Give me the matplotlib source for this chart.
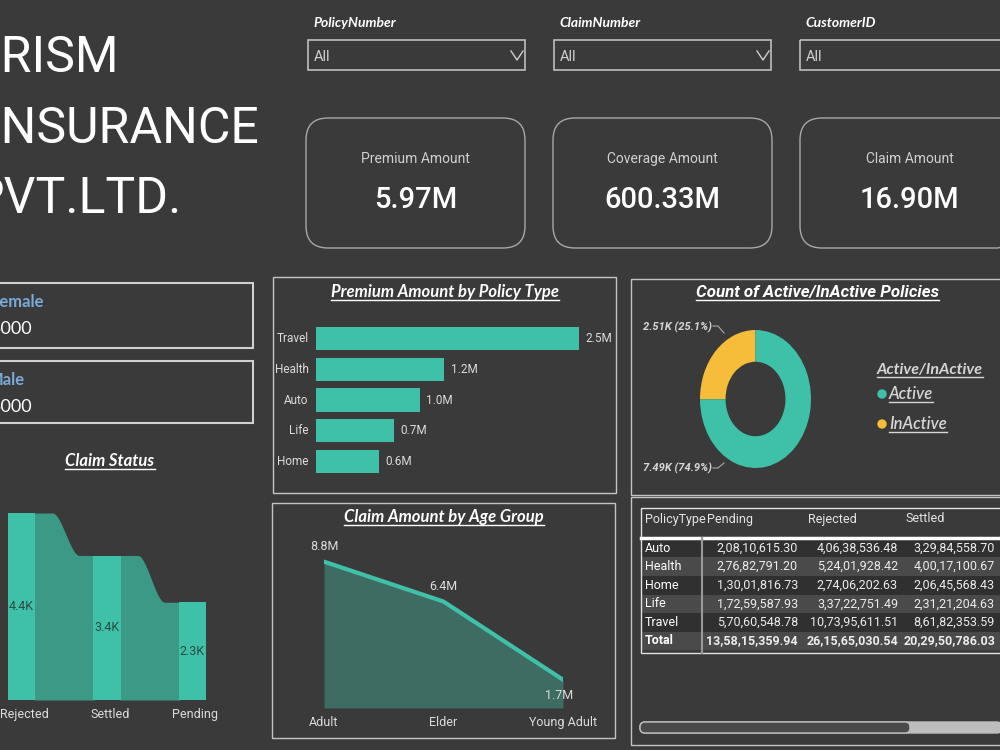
import numpy as np
import matplotlib.pyplot as plt
from matplotlib.patches import Rectangle, FancyBboxPatch, Circle

# ---- data ----
slicer_labels = ["PolicyNumber", "ClaimNumber", "CustomerID"]
kpi_labels = ["Premium Amount", "Coverage Amount", "Claim Amount"]
kpi_values_m = [5.97, 600.33, 16.90]
gender_labels = ["Female", "Male"]
gender_counts = [5000, 5000]

policy_types = ["Travel", "Health", "Auto", "Life", "Home"]
premium_m = [2.50, 1.22, 0.99, 0.74, 0.60]

claim_status = ["Rejected", "Settled", "Pending"]
claim_status_k = [4.4, 3.4, 2.3]

age_groups = ["Adult", "Elder", "Young Adult"]
claim_by_age_m = [8.8, 6.4, 1.7]

policy_state = ["Active", "InActive"]
policy_state_count = [7490, 2510]

table_types = ["Auto", "Health", "Home", "Life", "Travel"]
table_cols = ["Pending", "Rejected", "Settled"]
pending = [20810615.30, 27682791.20, 13001816.73, 17259587.93, 57060548.78]
rejected = [40638536.48, 52401928.42, 27406202.63, 33722751.49, 107395611.51]
settled = [32984558.70, 40017100.67, 20645568.43, 23121204.63, 86182353.59]
totals = [135815359.94, 261565030.54, 202950786.03]

# ---- style ----
BG = '#3a3a3a'
TEAL = '#3fc1a9'
TEAL_DARK = '#3c9985'
AREA = '#3e6b62'
YELLOW = '#f6bd3b'
BORDER = '#c4c4c4'
TXT = '#dcdcdc'
NARROW = ['Roboto', 'DejaVu Sans']
TITLE = ['Lato', 'DejaVu Sans']


def px(x0, y0, x1, y1):
    # pixel box (y down) -> figure fraction rect
    return [x0 / 1000, 1 - y1 / 750, (x1 - x0) / 1000, (y1 - y0) / 750]


def inr(v):
    # indian digit grouping, e.g. 2,08,10,615.30
    ip, dp = f"{v:.2f}".split('.')
    last3, rest = ip[-3:], ip[:-3]
    groups = []
    while len(rest) > 2:
        groups.insert(0, rest[-2:])
        rest = rest[:-2]
    if rest:
        groups.insert(0, rest)
    return ','.join(groups + [last3]) + '.' + dp


fig = plt.figure(figsize=(10, 7.5), dpi=100, facecolor=BG)
bg = fig.add_axes([0, 0, 1, 1])
bg.set_xlim(0, 1000)
bg.set_ylim(750, 0)
bg.axis('off')
underlined = []

# company name (cut at the left edge like the screenshot)
for line, x, yb in zip(["PRISM", "INSURANCE", "PVT.LTD."], [-30, -12, -27], [72, 143, 213]):
    bg.text(x, yb, line, fontsize=36, color='white', family=NARROW, va='baseline')

# slicers
for i, lab in enumerate(slicer_labels):
    x0 = 308 + i * 246
    bg.text(x0 + 5, 23, lab, fontsize=10, style='italic', weight='bold', color='white',
            family=TITLE, va='center')
    bg.add_patch(Rectangle((x0, 40), 217, 30, fill=False, ec='#bdbdbd', lw=1.2))
    bg.text(x0 + 6, 57, 'All', fontsize=10.5, color='#d0d0d0', family=NARROW, va='center')
    bg.plot([x0 + 203, x0 + 209, x0 + 215], [51, 60, 51], color='#cfcfcf', lw=1)

# KPI cards
for i, (lab, v) in enumerate(zip(kpi_labels, kpi_values_m)):
    x0 = 306 + i * 247
    bg.add_patch(FancyBboxPatch((x0, 118), 219, 130, boxstyle='round,pad=0,rounding_size=22',
                                fill=False, ec='#a8a8a8', lw=1))
    bg.text(x0 + 109.5, 159, lab, fontsize=10, color='#d0d0d0', family=NARROW,
            ha='center', va='center')
    bg.text(x0 + 109.5, 200, f"{v:.2f}M", fontsize=21, color='white', family=NARROW,
            weight='medium', ha='center', va='center')

# gender cards
for (lab, cnt), y0, h in zip(zip(gender_labels, gender_counts), [283, 361], [65, 62]):
    bg.add_patch(Rectangle((-5, y0), 258, h, fill=False, ec='#d0d0d0', lw=1.5))
    bg.text(-9 if lab == "Female" else -12, y0 + 19, lab, fontsize=12, weight='bold',
            color='#7aaad6', family=TITLE, va='center')
    bg.text(-9, y0 + 46, f"{cnt}", fontsize=13, color='white', family=TITLE, va='center')

# panel borders
for x0, y0, w, h in [(273, 277, 343, 216), (631, 279, 380, 216),
                     (272, 503, 343, 235), (631, 497, 380, 248)]:
    bg.add_patch(Rectangle((x0, y0), w, h, fill=False, ec=BORDER, lw=1))

# titles
title_kw = dict(fontsize=12, weight='bold', style='italic', color='white', family=TITLE,
                ha='center', va='baseline')
underlined.append(bg.text(445, 297, 'Premium Amount by Policy Type', **title_kw))
underlined.append(bg.text(110, 466, 'Claim Status', **title_kw))
underlined.append(bg.text(444, 522, 'Claim Amount by Age Group', **title_kw))
underlined.append(bg.text(817, 297, 'Count of Active/InActive Policies', fontsize=12.2,
                          weight='bold', style='italic', color='white', family=NARROW,
                          ha='center', va='baseline'))

# ---- premium by policy type ----
ax = fig.add_axes(px(316, 323, 579, 477), facecolor='none')
ypos = np.arange(len(policy_types))
ax.barh(ypos, premium_m, height=0.75, color=TEAL)
ax.set_xlim(0, max(premium_m))
ax.set_ylim(len(policy_types) - 0.5, -0.5)
ax.axis('off')
for y, cat, v in zip(ypos, policy_types, premium_m):
    ax.text(-0.07, y, cat, ha='right', va='center', fontsize=8.5, color=TXT, family=NARROW)
    ax.text(v + 0.06, y, f"{v:.1f}M", ha='left', va='center', fontsize=8.5, color=TXT,
            family=NARROW)

# ---- claim status ribbon ----
ax2 = fig.add_axes(px(8, 480, 206, 700), facecolor='none')
xs = np.arange(len(claim_status))
bw = 0.32
ax2.set_xlim(-bw / 2, xs[-1] + bw / 2)
ax2.set_ylim(0, max(claim_status_k) * 220 / 187)
ax2.axis('off')
for i in range(len(xs) - 1):
    a, b = claim_status_k[i], claim_status_k[i + 1]
    x = np.linspace(xs[i] + bw / 2 - 0.01, xs[i + 1] - bw / 2 + 0.01, 80)
    t = (x - x[0]) / (x[-1] - x[0])
    u = np.clip((t - 0.3) / 0.45, 0, 1)
    ax2.fill_between(x, 0, a + (b - a) * u * u * (3 - 2 * u), color=TEAL_DARK, lw=0)
ax2.bar(xs, claim_status_k, width=bw, color=TEAL, zorder=3)
for x, name, v in zip(xs, claim_status, claim_status_k):
    ax2.text(x, v / 2, f"{v:.1f}K", ha='center', va='center', fontsize=9, color='#2c4a44',
             family=NARROW, zorder=4)
    ax2.annotate(name, (x, 0), xytext=(2, -6), textcoords='offset points', ha='center',
                 va='top', fontsize=9, color=TXT, family=NARROW)

# ---- claim amount by age group ----
ax3 = fig.add_axes(px(324, 540, 563, 708), facecolor='none')
xa = np.arange(len(age_groups))
ax3.fill_between(xa, 0, claim_by_age_m, color=AREA, lw=0)
ax3.plot(xa, claim_by_age_m, color=TEAL, lw=3, solid_capstyle='round')
ax3.set_xlim(0, xa[-1])
ax3.set_ylim(0, 10.1)
ax3.axis('off')
for x, name, v in zip(xa, age_groups, claim_by_age_m):
    off = 11 if x < xa[-1] else -11
    ax3.annotate(f"{v:.1f}M", (x, v), xytext=(-3 if x == xa[-1] else 0, off),
                 textcoords='offset points', ha='center', va='center', fontsize=9,
                 color=TXT, family=NARROW)
    ax3.annotate(name, (x, 0), xytext=(0, -6), textcoords='offset points', ha='center',
                 va='top', fontsize=9, color=TXT, family=NARROW)

# ---- active / inactive donut ----
ax4 = fig.add_axes(px(700, 330, 811, 468), facecolor='none')
order = [1, 0]  # InActive first so it sits in the top-left quarter
ax4.pie([policy_state_count[k] for k in order], colors=[YELLOW, TEAL], startangle=90,
        counterclock=True, wedgeprops=dict(width=0.46, lw=0))
ax4.set_aspect('auto')
ax4.set_xlim(-1, 1)
ax4.set_ylim(-1, 1)
tot = sum(policy_state_count)
lab_kw = dict(fontsize=8, weight='bold', style='italic', color='#d6d6d6', family=NARROW,
              ha='left', va='center')
c_in = policy_state_count[1]
c_ac = policy_state_count[0]
bg.text(643, 327, f"{c_in / 1000:.2f}K ({c_in / tot * 100:.1f}%)", **lab_kw)
bg.plot([713, 718, 724], [326, 326, 333], color='#aaaaaa', lw=0.8)
bg.text(643, 468, f"{c_ac / 1000:.2f}K ({c_ac / tot * 100:.1f}%)", **lab_kw)
bg.plot([713, 718, 724], [468, 468, 463], color='#aaaaaa', lw=0.8)

leg_kw = dict(fontsize=11.5, style='italic', color='#d6d6d6', family=TITLE, va='baseline')
underlined.append(bg.text(877, 374, 'Active/InActive', weight='bold', **leg_kw))
for name, col, y in zip(policy_state, [TEAL, YELLOW], [399, 429]):
    bg.add_patch(Circle((882, y - 5), 4, color=col))
    underlined.append(bg.text(889, y, name, fontsize=12, style='italic', color='#d6d6d6',
                              family=TITLE, va='baseline', weight='semibold'))

# ---- matrix table ----
bg.text(645, 519, 'PolicyType', fontsize=9, color='#e6e6e6', family=NARROW, va='center')
for x, c in zip([707, 808, 905], table_cols):
    bg.text(x, 519, c, fontsize=9, color='#e6e6e6', family=NARROW, va='center')
rh = 18.6
cols = [pending, rejected, settled]
for j, name in enumerate(table_types + ['Total']):
    yc = 548 + j * rh
    bg.add_patch(Rectangle((641, yc - rh / 2), 364, rh, lw=0,
                           color='#4a4a4a' if j % 2 == 1 else '#303030'))
    bold = 'bold' if name == 'Total' else 'normal'
    bg.text(645, yc, name, fontsize=9, color='white', family=NARROW, va='center',
            weight=bold)
    for xr, col, tval in zip([798, 898, 995], cols, totals):
        v = tval if name == 'Total' else col[j]
        bg.text(xr, yc, inr(v), fontsize=9, color='#ececec', family=NARROW,
                ha='right', va='center', weight=bold)
bg.plot([641, 1005], [538, 538], color='white', lw=2.5)
bg.plot([702, 702], [538, 653], color='#9a9a9a', lw=1.5)
bg.add_patch(Rectangle((641, 508), 364, 145, fill=False, ec='#e0e0e0', lw=1))
bg.add_patch(FancyBboxPatch((640, 722), 362, 11, boxstyle='round,pad=0,rounding_size=5',
                            fc='#bdbdbd', ec='#bdbdbd'))
bg.add_patch(FancyBboxPatch((640, 722), 270, 11, boxstyle='round,pad=0,rounding_size=5',
                            fc='#4a4a4a', ec='#bdbdbd', lw=1))

# underline titles / legend entries
fig.canvas.draw()
r = fig.canvas.get_renderer()
inv = bg.transData.inverted()
for t in underlined:
    bb = t.get_window_extent(r)
    (xa0, _), (xa1, _) = inv.transform([(bb.x0, bb.y0), (bb.x1, bb.y0)])
    yb = t.get_position()[1] + 2.5
    bg.plot([xa0, xa1], [yb, yb], color=t.get_color(), lw=1)

fig.savefig('out.png', dpi=100, facecolor=BG)
